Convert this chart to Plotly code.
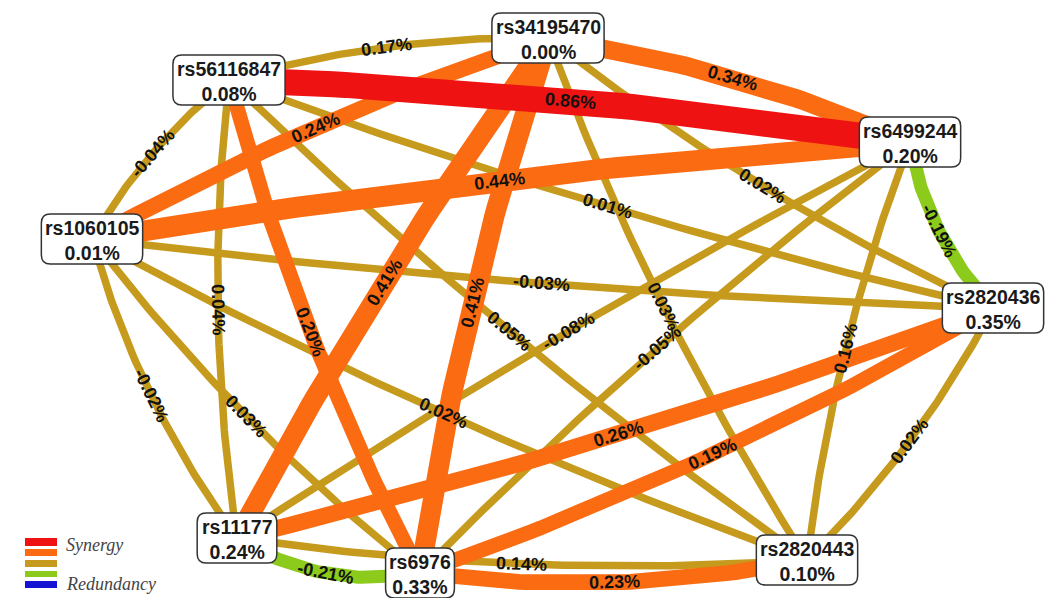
import numpy as np
import plotly.graph_objects as go

# ---------------- data ----------------
node_names = ["rs34195470", "rs56116847", "rs6499244", "rs1060105",
              "rs2820436", "rs11177", "rs6976", "rs2820443"]
node_values = [0.00, 0.08, 0.20, 0.01, 0.35, 0.24, 0.33, 0.10]

edge_src = ["rs34195470", "rs6499244", "rs6499244", "rs34195470", "rs6499244",
            "rs56116847", "rs1060105", "rs11177", "rs6976", "rs2820443",
            "rs6499244", "rs11177", "rs34195470", "rs56116847", "rs1060105",
            "rs56116847", "rs56116847", "rs34195470", "rs34195470", "rs1060105",
            "rs1060105", "rs34195470", "rs6499244", "rs6499244", "rs6499244",
            "rs2820436", "rs2820436", "rs56116847"]
edge_tgt = ["rs56116847", "rs34195470", "rs56116847", "rs1060105", "rs1060105",
            "rs1060105", "rs11177", "rs6976", "rs2820443", "rs2820436",
            "rs2820436", "rs2820443", "rs2820436", "rs2820436", "rs2820436",
            "rs11177", "rs6976", "rs11177", "rs6976", "rs6976",
            "rs2820443", "rs2820443", "rs11177", "rs6976", "rs2820443",
            "rs11177", "rs6976", "rs2820443"]
edge_values = [0.17, 0.34, 0.86, 0.24, 0.44,
               -0.04, -0.02, -0.21, 0.23, 0.02,
               -0.19, 0.14, 0.02, 0.01, -0.03,
               0.04, 0.20, 0.41, 0.41, 0.03,
               0.02, 0.03, -0.08, -0.05, 0.16,
               0.26, 0.19, 0.05]

legend_labels = ["Synergy", "Redundancy"]

# ---------------- layout / style (pixels) ----------------
W, H = 1051, 598
node_x = [548, 229, 910, 92, 993, 237, 420, 807]
node_y = [38, 80, 142, 239, 308, 538, 573, 560]
edge_bend = [12, 12, 10, 12, 10,
             10, 15, 18, 16, 12,
             14, 15, 15, 13, 10,
             15, 15, 10, 12, 14,
             15, 16, 10, 12, 13,
             -12, -15, 14]

RED, ORANGE, GOLD, GREEN, BLUE = "#ee1212", "#fb6b12", "#c69a1c", "#8ccb1c", "#1414d2"


def edge_style(v):
    if v >= 0.6:
        return RED, 26, 3
    if v >= 0.18:
        return ORANGE, 10 + 25 * v, 2
    if v > -0.15:
        return GOLD, 7.5, 0
    return GREEN, 13, 1


pos = {n: (x, y) for n, x, y in zip(node_names, node_x, node_y)}

fig = go.Figure()

edges = []
for s, t, v, b in zip(edge_src, edge_tgt, edge_values, edge_bend):
    col, w, order = edge_style(v)
    edges.append((order, s, t, v, b, col, w))
edges.sort(key=lambda e: e[0])

annotations = []
for order, s, t, v, b, col, w in edges:
    p0 = np.array(pos[s], float)
    p2 = np.array(pos[t], float)
    d = p2 - p0
    L = np.hypot(*d)
    u = d / L
    n = np.array([-u[1], u[0]])
    mid = (p0 + p2) / 2
    p1 = mid + 2 * b * n
    tt = np.linspace(0, 1, 60)
    pts = ((1 - tt) ** 2)[:, None] * p0 + (2 * (1 - tt) * tt)[:, None] * p1 + (tt ** 2)[:, None] * p2
    fig.add_trace(go.Scatter(x=pts[:, 0], y=pts[:, 1], mode="lines",
                             line=dict(color=col, width=w), hoverinfo="skip",
                             showlegend=False))
    lp = mid + b * n
    ang = np.degrees(np.arctan2(d[1], d[0]))
    if ang > 90:
        ang -= 180
    elif ang < -90:
        ang += 180
    annotations.append(dict(x=lp[0], y=lp[1], xref="x", yref="y",
                            text=f"<b>{v:.2f}%</b>", showarrow=False, textangle=ang,
                            font=dict(family="Liberation Sans, Arial", size=18, color="#111111")))

# node boxes
cw = {c: 0.556 for c in "0123456789"}
cw.update({"r": 0.389, "s": 0.556, ".": 0.278, "%": 0.889})
FS = 19.5
shapes = []


def rrect(x0, y0, x1, y1, r):
    return (f"M {x0 + r},{y0} L {x1 - r},{y0} Q {x1},{y0} {x1},{y0 + r} "
            f"L {x1},{y1 - r} Q {x1},{y1} {x1 - r},{y1} L {x0 + r},{y1} "
            f"Q {x0},{y1} {x0},{y1 - r} L {x0},{y0 + r} Q {x0},{y0} {x0 + r},{y0} Z")


for name, val, x, y in zip(node_names, node_values, node_x, node_y):
    vt = f"{val:.2f}%"
    tw = max(sum(cw.get(c, 0.556) for c in name), sum(cw.get(c, 0.556) for c in vt)) * FS
    bw = tw + 7
    bh = 50
    shapes.append(dict(type="path", path=rrect(x - bw / 2, y - bh / 2, x + bw / 2, y + bh / 2, 9),
                       xref="x", yref="y", fillcolor="white",
                       line=dict(color="#333333", width=1.5), layer="above"))
    annotations.append(dict(x=x, y=y + 1, xref="x", yref="y", text=f"<b>{name}<br>{vt}</b>",
                            showarrow=False, align="center",
                            font=dict(family="Liberation Sans, Arial", size=FS, color="#1a1a1a")))

# legend
legend_colors = [RED, ORANGE, GOLD, GREEN, BLUE]
legend_rows = [(538, 546), (549, 556), (560, 567), (571, 577), (581, 588)]
for c, (y0, y1) in zip(legend_colors, legend_rows):
    shapes.append(dict(type="rect", x0=25, x1=57, y0=y0, y1=y1, xref="x", yref="y",
                       fillcolor=c, line=dict(width=0), layer="above"))
for lab, y in zip(legend_labels, [545, 584]):
    annotations.append(dict(x=64, y=y, xref="x", yref="y", text=f"<i>{lab}</i>",
                            showarrow=False, xanchor="left",
                            font=dict(family="Liberation Serif, Times New Roman", size=18,
                                      color="#444444")))

fig.update_layout(
    width=W, height=H, margin=dict(l=0, r=0, t=0, b=0),
    paper_bgcolor="white", plot_bgcolor="white",
    xaxis=dict(range=[0, W], visible=False, fixedrange=True),
    yaxis=dict(range=[H, 0], visible=False, fixedrange=True),
    shapes=shapes, annotations=annotations, showlegend=False,
)

fig.write_html("out.html", config={"displayModeBar": False},
               post_script="document.body.style.margin='0px';document.body.style.overflow='hidden';")
